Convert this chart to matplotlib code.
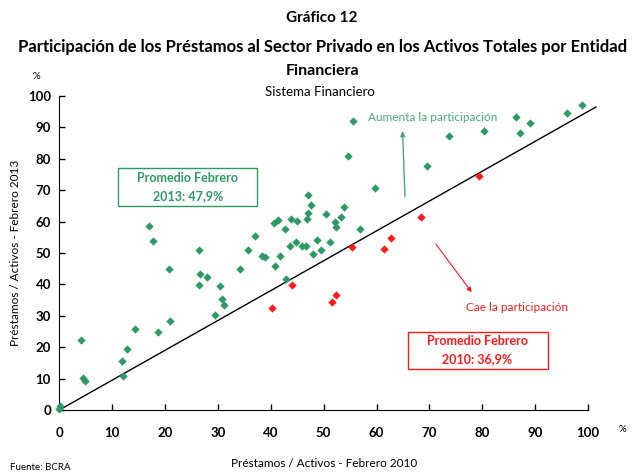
import matplotlib.pyplot as plt
from matplotlib.patches import Rectangle

# Valores (Prestamos/Activos, %)
verde_feb2010 = [0.0, 0.1, 4.2, 4.5, 4.8, 11.9, 12.0, 12.9, 14.4, 18.6, 21.0, 20.7,
                 17.0, 17.7, 26.5, 26.6, 27.9, 26.5, 30.4, 30.7, 31.2, 29.4, 34.2,
                 35.6, 37.1, 38.3, 38.9, 40.8, 41.7, 42.8, 42.6, 40.6, 41.3, 43.8,
                 44.9, 43.7, 44.8, 45.9, 46.6, 46.9, 47.1, 47.7, 47.1, 48.0, 48.8,
                 49.5, 50.4, 51.2, 52.1, 52.3, 53.2, 53.8, 54.6, 55.6, 56.8, 59.8,
                 69.5, 73.7, 80.3, 86.3, 87.1, 89.0, 96.1, 98.9]
verde_feb2013 = [0.2, 1.3, 22.4, 10.2, 9.2, 15.7, 10.9, 19.4, 25.8, 24.7, 28.2, 44.8,
                 58.6, 53.9, 50.9, 43.3, 42.3, 39.9, 39.5, 35.4, 33.4, 30.3, 44.9,
                 50.9, 55.4, 49.1, 48.6, 46.0, 48.9, 41.7, 57.5, 59.5, 60.5, 60.9,
                 60.2, 52.2, 53.6, 52.1, 52.1, 60.8, 62.7, 65.2, 68.6, 49.7, 54.2,
                 51.0, 62.3, 53.6, 60.0, 58.3, 61.6, 64.6, 80.9, 92.1, 57.7, 70.8,
                 77.7, 87.2, 88.9, 93.4, 88.3, 91.3, 94.6, 97.2]
rojo_feb2010 = [40.3, 44.0, 51.6, 52.4, 55.3, 61.5, 62.7, 68.5, 79.3]
rojo_feb2013 = [32.6, 39.9, 34.3, 36.6, 52.0, 51.3, 54.7, 61.6, 74.4]

linea_x = [0, 101.5]
linea_y = [0, 96.5]

VERDE = '#2e9a63'
VERDE_TXT = '#4aa878'
ROJO = '#ff1a1a'

plt.rcParams['font.family'] = ['Lato', 'DejaVu Sans']

fig = plt.figure(figsize=(6.34, 4.75), dpi=100)
ax = fig.add_axes([0.0935, 0.1368, 0.834, 0.6611])

ax.plot(linea_x, linea_y, color='black', lw=1.0, clip_on=False, zorder=2)
ax.scatter(verde_feb2010, verde_feb2013, marker='D', s=18, color=VERDE,
           clip_on=False, zorder=3, linewidths=0)
ax.scatter(rojo_feb2010, rojo_feb2013, marker='D', s=18, color=ROJO,
           clip_on=False, zorder=3, linewidths=0)

ax.set_xlim(0, 100)
ax.set_ylim(0, 100)
ax.set_xticks(range(0, 101, 10))
ax.set_yticks(range(0, 101, 10))
ax.spines['top'].set_visible(False)
ax.spines['right'].set_visible(False)
ax.tick_params(direction='in', length=4, width=1, labelsize=9.5)
ax.tick_params(axis='x', pad=12)
ax.tick_params(axis='y', pad=6)
for lbl in ax.get_xticklabels() + ax.get_yticklabels():
    lbl.set_fontweight('bold')

ax.set_xlabel('Préstamos / Activos - Febrero 2010', fontsize=8.5, labelpad=14)
ax.set_ylabel('Préstamos / Activos - Febrero 2013', fontsize=8.5, labelpad=5)

# Cajas de promedios
ax.add_patch(Rectangle((11.1, 65.0), 26.3, 12.1, fc='white', ec=VERDE, lw=1,
                       zorder=4))
ax.text(24.3, 71.0, 'Promedio Febrero\n2013: 47,9%', ha='center', va='center',
        fontsize=9, fontweight='bold', color=VERDE, linespacing=1.6, zorder=5)
ax.add_patch(Rectangle((65.9, 13.1), 26.5, 11.7, fc='white', ec=ROJO, lw=1,
                       zorder=4))
ax.text(79.1, 19.0, 'Promedio Febrero\n2010: 36,9%', ha='center', va='center',
        fontsize=9, fontweight='bold', color=ROJO, linespacing=1.6, zorder=5)

# Flechas y anotaciones
ax.annotate('', xy=(64.9, 89.7), xytext=(65.4, 67.1),
            arrowprops=dict(arrowstyle='-|>', color=VERDE_TXT, lw=1, mutation_scale=7))
ax.text(70.7, 93.0, 'Aumenta la participación', ha='center', va='center',
        fontsize=8.5, color=VERDE_TXT)
ax.annotate('', xy=(78.3, 36.8), xytext=(70.9, 53.6),
            arrowprops=dict(arrowstyle='-|>', color=ROJO, lw=0.8, mutation_scale=7))
ax.text(86.5, 32.8, 'Cae la participación', ha='center', va='center',
        fontsize=8.5, color=ROJO)

# Titulos y textos
fig.text(0.508, 0.963, 'Gráfico 12', ha='center', va='center', fontsize=11,
         fontweight='bold')
fig.text(0.508, 0.901, 'Participación de los Préstamos al Sector Privado en los Activos Totales por Entidad',
         ha='center', va='center', fontsize=12, fontweight='bold')
fig.text(0.508, 0.851, 'Financiera', ha='center', va='center', fontsize=11.5,
         fontweight='bold')
fig.text(0.505, 0.806, 'Sistema Financiero', ha='center', va='center', fontsize=9.5)
fig.text(0.058, 0.838, '%', ha='center', va='center', fontsize=7)
fig.text(0.981, 0.095, '%', ha='center', va='center', fontsize=7)
fig.text(0.016, 0.015, 'Fuente: BCRA', ha='left', va='center', fontsize=7)

fig.savefig('out.png', dpi=100)
